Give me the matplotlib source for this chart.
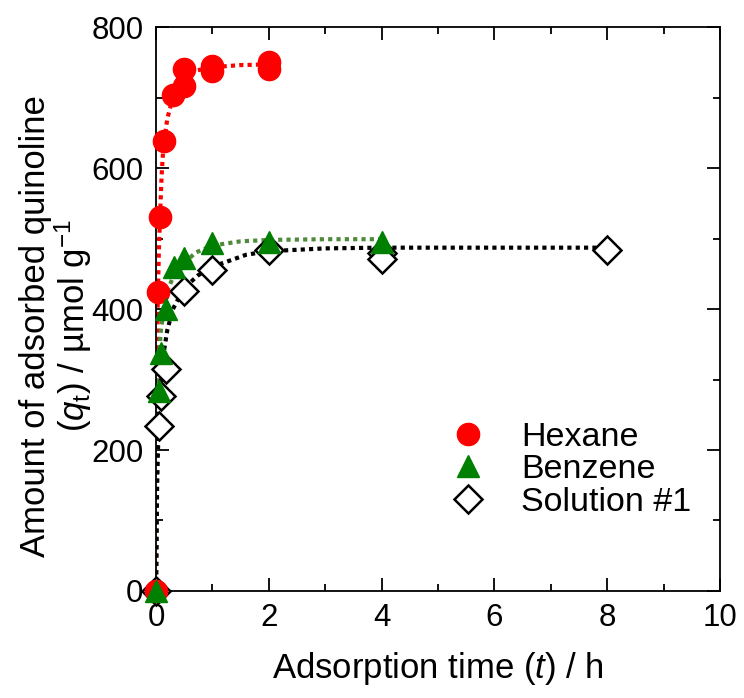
import numpy as np
import matplotlib
matplotlib.use('Agg')
from matplotlib import pyplot as plt
from matplotlib.ticker import MultipleLocator

plt.rcParams['font.family'] = ['Liberation Sans', 'DejaVu Sans']
plt.rcParams['mathtext.fontset'] = 'custom'
plt.rcParams['mathtext.rm'] = 'Liberation Sans'
plt.rcParams['mathtext.it'] = 'Liberation Sans:italic'

# measured points (t / h, q / umol g-1)
hex_t = [0, 0.035, 0.066, 0.14, 0.31, 0.5, 0.5, 1, 1, 2, 2]
hex_q = [0, 424, 530, 639, 703, 716, 740, 745, 737, 750, 740]

ben_t = [0, 0.05, 0.08, 0.17, 0.32, 0.5, 1, 2, 4]
ben_q = [0, 284, 338, 400, 459, 473, 493, 495, 495]

sol_t = [0, 0.05, 0.08, 0.17, 0.5, 1, 2, 4, 4, 8]
sol_q = [0, 234, 277, 315, 426, 455, 483, 479, 471, 483]

# fitted curves
hex_fit_t = [0, 0.01, 0.02, 0.03, 0.05, 0.07, 0.1, 0.13, 0.2, 0.3, 0.4, 0.5, 0.7, 1, 1.5, 2]
hex_fit_q = [0, 150, 300, 410, 480, 530, 590, 630, 670, 700, 718, 728, 738, 743, 746, 747]

ben_fit_t = [0, 0.01, 0.02, 0.05, 0.08, 0.1, 0.2, 0.3, 0.5, 0.7, 1, 1.5, 2, 3, 4]
ben_fit_q = [0, 120, 240, 320, 365, 378, 425, 445, 465, 480, 490, 496, 498, 499, 499]

sol_fit_t = [0, 0.01, 0.02, 0.05, 0.1, 0.2, 0.3, 0.5, 0.75, 1, 1.25, 1.6, 2, 3, 4, 6, 8]
sol_fit_q = [0, 80, 150, 250, 320, 370, 400, 430, 448, 460, 467, 477, 482, 486, 487, 487, 487]

fig = plt.figure(figsize=(7.44, 6.98), dpi=100)
ax = fig.add_axes([0.2097, 0.1533, 0.758, 0.808])

ax.plot(hex_fit_t, hex_fit_q, color='#ff0000', lw=3, ls=(0, (1, 1)), zorder=2)
ax.plot(ben_fit_t, ben_fit_q, color='#4f8a3a', lw=3, ls=(0, (1, 1)), zorder=2)
ax.plot(sol_fit_t, sol_fit_q, color='black', lw=3, ls=(0, (1, 1)), zorder=2)

ax.plot(sol_t, sol_q, 'D', ms=14, mfc='white', mec='black', mew=1.8,
        ls='none', label='Solution #1', zorder=3, clip_on=False)
ax.plot(hex_t, hex_q, 'o', ms=16, color='#ff0000', ls='none',
        label='Hexane', zorder=4, clip_on=False)
ax.plot(ben_t, ben_q, '^', ms=16, color='#008000', ls='none',
        label='Benzene', zorder=5, clip_on=False)

ax.set_xlim(0, 10)
ax.set_ylim(0, 800)
ax.xaxis.set_major_locator(MultipleLocator(2))
ax.xaxis.set_minor_locator(MultipleLocator(1))
ax.yaxis.set_major_locator(MultipleLocator(200))
ax.yaxis.set_minor_locator(MultipleLocator(100))
ax.tick_params(which='both', direction='in', top=True, right=True, width=1.3, labelsize=22.5, pad=9)
ax.tick_params(which='major', length=9.5)
ax.tick_params(which='minor', length=5)
for s in ax.spines.values():
    s.set_linewidth(1.3)

ax.set_xlabel(r'Adsorption time ($\mathit{t}$) / h', fontsize=25, labelpad=12)
ax.set_ylabel('Amount of adsorbed quinoline\n' + r'($\mathit{q}_\mathrm{t}$) / µmol g$^{-1}$',
              fontsize=25, linespacing=1.0)
ax.yaxis.set_label_coords(-0.11, 0.47)

h, l = ax.get_legend_handles_labels()
order = [1, 2, 0]
ax.legend([h[i] for i in order], [l[i] for i in order], loc='center left',
          bbox_to_anchor=(0.4876, 0.215), frameon=False, fontsize=24.5,
          handlelength=1.2, handletextpad=0.95, labelspacing=0.05, borderpad=0)

plt.savefig('out.png', dpi=100)
